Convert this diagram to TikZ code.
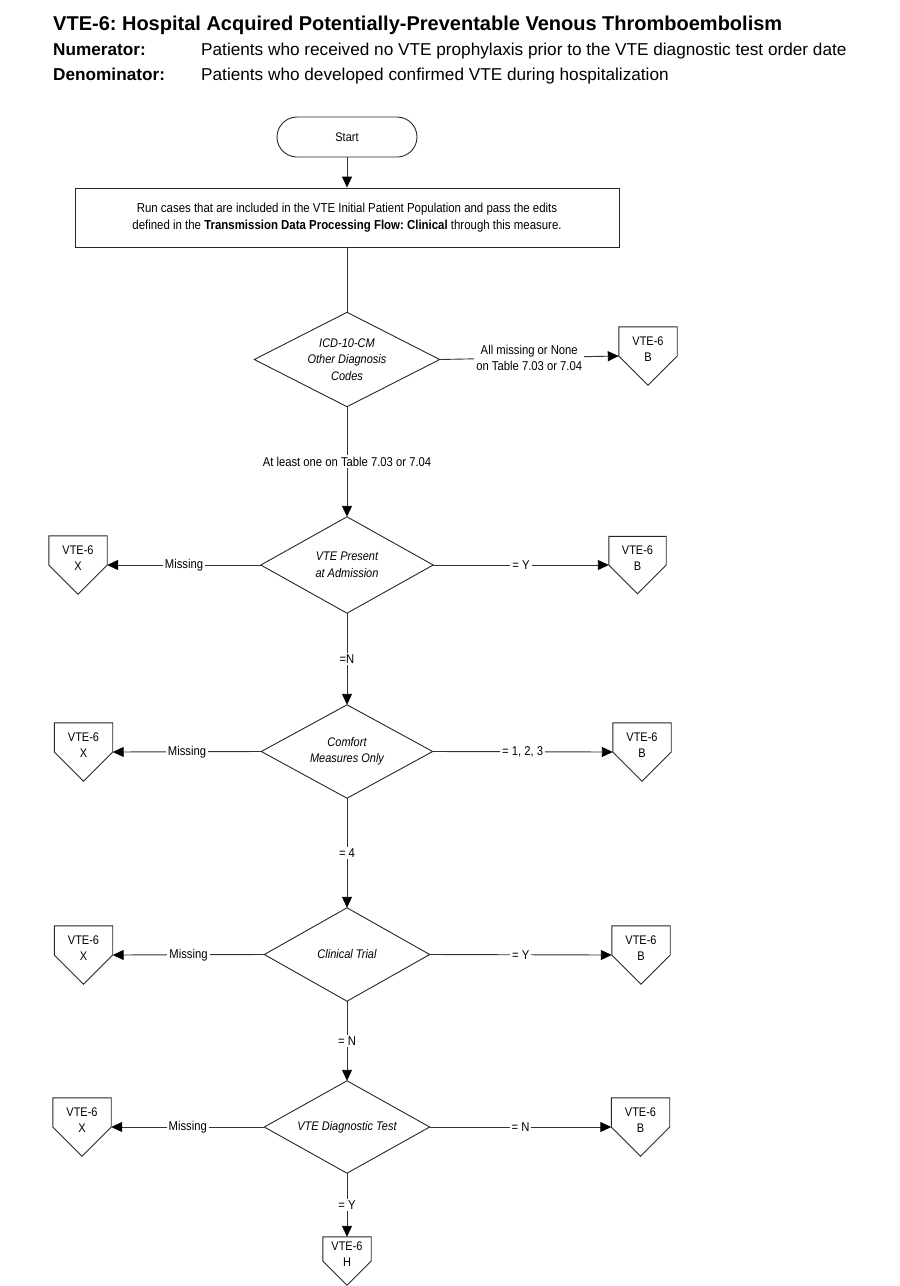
\documentclass[tikz,border=0pt]{standalone}
\usepackage{fontspec}
\setmainfont{Liberation Sans}[FakeStretch=0.88]
\newfontfamily\hdrfont{Liberation Sans}
\usetikzlibrary{arrows.meta}
\frenchspacing
\tikzset{
  shp/.style={draw=black!85, line width=0.9pt},
  conn/.style={draw=black!80, line width=0.9pt},
  arr/.style={conn, -{Triangle[length=11pt,width=10pt,color=black]}},
  txt/.style={font=\fontsize{12.5}{16}\selectfont, align=center, inner sep=0pt},
  dtxt/.style={font=\fontsize{12.5}{16.5}\selectfont\itshape, align=center, inner sep=0pt, rectangle},
  lbl/.style={fill=white, inner sep=2pt, font=\fontsize{12.8}{16}\selectfont, align=center},
  ttl/.style={font=\hdrfont\fontsize{20}{24}\selectfont\bfseries, inner sep=0pt, anchor=base west},
  hdr/.style={font=\hdrfont\fontsize{17.2}{20}\selectfont, inner sep=0pt, anchor=base west},
  hdrb/.style={hdr, font=\hdrfont\fontsize{17.2}{20}\selectfont\bfseries},
}
\newcommand\dmd[5]{%
  \node[dtxt, minimum width=#3, minimum height=#4] (#1) at (#2) {#5};
  \draw[shp] (#1.north) -- (#1.east) -- (#1.south) -- (#1.west) -- cycle;}
\newcommand\opg[4]{%
  \node[rectangle, inner sep=0pt, minimum width=#3, minimum height=#3] (#1) at (#2) {};
  \draw[shp] (#1.north west) -- (#1.north east) -- (#1.east) -- (#1.south) -- (#1.west) -- cycle;
  \node[txt] (#1t) at ([yshift=7pt]#1.center) {VTE-6\\#4};}
\begin{document}
\begin{tikzpicture}[x=1pt,y=-1pt]
\useasboundingbox (0,0) rectangle (900,1286);
% header
\node[ttl] (title) at (53,30) {VTE-6: Hospital Acquired Potentially-Preventable Venous Thromboembolism};
\node[hdrb] (numl) at (53,55) {Numerator:};
\node[hdr] (numt) at (201,55) {Patients who received no VTE prophylaxis prior to the VTE diagnostic test order date};
\node[hdrb] (denl) at (53,80) {Denominator:};
\node[hdr] (dent) at (201,80) {Patients who developed confirmed VTE during hospitalization};
% start and box
\node[shp, txt, rounded corners=20pt, minimum width=140, minimum height=40] (start) at (347,137) {Start};
\node[shp, txt, font=\fontsize{13}{16.5}\selectfont, minimum width=544, minimum height=59] (run) at (347,217.5)
  {Run cases that are included in the VTE Initial Patient Population and pass the edits\\
   defined in the \textbf{Transmission Data Processing Flow: Clinical} through this measure.};
% decisions
\dmd{d1}{347,359.5}{185}{94}{ICD-10-CM\\Other Diagnosis\\Codes}
\dmd{d2}{347,565}{172}{96}{VTE Present\\at Admission}
\dmd{d3}{347,751.5}{171}{93}{Comfort\\Measures Only}
\dmd{d4}{347,954.5}{165}{93}{Clinical Trial}
\dmd{d5}{347,1127}{165}{92}{VTE Diagnostic Test}
% off-page connectors
\opg{b1}{648,356}{58}{B}
\opg{x2}{78,565}{58}{X}
\opg{b2}{637.5,565}{57}{B}
\opg{x3}{83.5,752}{58}{X}
\opg{b3}{642,752}{58}{B}
\opg{x4}{83.5,955}{58}{X}
\opg{b4}{641,955}{58}{B}
\opg{x5}{82,1127}{58}{X}
\opg{b5}{640.5,1127}{58}{B}
\opg{h}{347,1261}{48}{H}
% connectors
\draw[arr] (start) -- (run);
\draw[conn] (run) -- (d1);
\draw[arr] (d1.east) -- node[lbl] {All missing or None\\on Table 7.03 or 7.04} (b1.west);
\draw[arr] (d1.south) -- node[lbl] {At least one on Table 7.03 or 7.04} (d2.north);
\draw[arr] (d2.west) -- node[lbl] {Missing} (x2.east);
\draw[arr] (d2.east) -- node[lbl] {= Y} (b2.west);
\draw[arr] (d2.south) -- node[lbl] {=N} (d3.north);
\draw[arr] (d3.west) -- node[lbl] {Missing} (x3.east);
\draw[arr] (d3.east) -- node[lbl] {= 1, 2, 3} (b3.west);
\draw[arr] (d3.south) -- node[lbl] {= 4} (d4.north);
\draw[arr] (d4.west) -- node[lbl] {Missing} (x4.east);
\draw[arr] (d4.east) -- node[lbl] {= Y} (b4.west);
\draw[arr] (d4.south) -- node[lbl] {= N} (d5.north);
\draw[arr] (d5.west) -- node[lbl] {Missing} (x5.east);
\draw[arr] (d5.east) -- node[lbl] {= N} (b5.west);
\draw[arr] (d5.south) -- node[lbl] {= Y} (h.north);
\end{tikzpicture}
\end{document}
